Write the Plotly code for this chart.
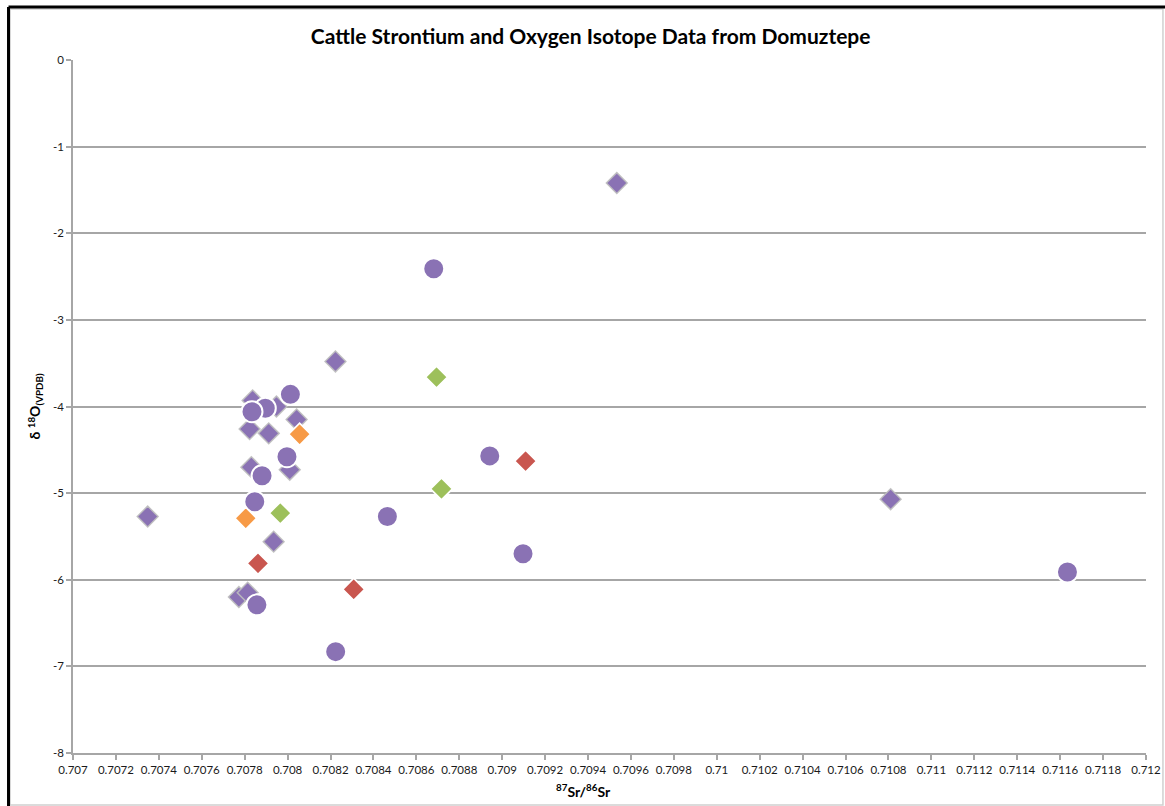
import plotly.graph_objects as go

# ---- data ----
purple_diamond_x = [0.709534, 0.707348, 0.708223, 0.710810, 0.707837, 0.707948, 0.708042,
                    0.707823, 0.707912, 0.707831, 0.708010, 0.707935, 0.707773, 0.707814]
purple_diamond_y = [-1.42, -5.27, -3.48, -5.07, -3.93, -4.00, -4.15,
                    -4.26, -4.31, -4.70, -4.73, -5.56, -6.20, -6.15]

purple_circle_x = [0.708681, 0.708013, 0.707896, 0.707834, 0.707997, 0.707881, 0.707847,
                   0.707857, 0.708224, 0.708465, 0.708942, 0.709097, 0.711634]
purple_circle_y = [-2.41, -3.86, -4.02, -4.06, -4.58, -4.80, -5.10,
                   -6.29, -6.83, -5.27, -4.57, -5.70, -5.91]

orange_x = [0.708056, 0.707805]
orange_y = [-4.32, -5.29]

green_x = [0.707966, 0.708694, 0.708717]
green_y = [-5.23, -3.66, -4.95]

red_x = [0.707862, 0.708308, 0.709109]
red_y = [-5.81, -6.11, -4.63]

x_tickvals = [0.707, 0.7072, 0.7074, 0.7076, 0.7078, 0.708, 0.7082, 0.7084, 0.7086, 0.7088,
              0.709, 0.7092, 0.7094, 0.7096, 0.7098, 0.71, 0.7102, 0.7104, 0.7106, 0.7108,
              0.711, 0.7112, 0.7114, 0.7116, 0.7118, 0.712]
x_ticktext = ["0.707", "0.7072", "0.7074", "0.7076", "0.7078", "0.708", "0.7082", "0.7084",
              "0.7086", "0.7088", "0.709", "0.7092", "0.7094", "0.7096", "0.7098", "0.71",
              "0.7102", "0.7104", "0.7106", "0.7108", "0.711", "0.7112", "0.7114", "0.7116",
              "0.7118", "0.712"]
y_tickvals = [0, -1, -2, -3, -4, -5, -6, -7, -8]
y_ticktext = ["0", "-1", "-2", "-3", "-4", "-5", "-6", "-7", "-8"]

PURPLE = "#8A72B4"
GREEN = "#9DC05B"
ORANGE = "#F79A46"
RED = "#C9564F"
FONT = "Lato"

fig = go.Figure()

fig.add_trace(go.Scatter(
    x=purple_diamond_x, y=purple_diamond_y, mode="markers", name="Purple diamonds",
    marker=dict(symbol="diamond", size=16, color=PURPLE,
                line=dict(color="rgba(190,190,190,0.9)", width=1.5))))
fig.add_trace(go.Scatter(
    x=purple_circle_x, y=purple_circle_y, mode="markers", name="Purple circles",
    marker=dict(symbol="circle", size=21, color=PURPLE,
                line=dict(color="white", width=2))))
for xs, ys, c, n in [(orange_x, orange_y, ORANGE, "Orange"),
                     (green_x, green_y, GREEN, "Green"),
                     (red_x, red_y, RED, "Red")]:
    fig.add_trace(go.Scatter(
        x=xs, y=ys, mode="markers", name=n,
        marker=dict(symbol="diamond", size=17, color=c,
                    line=dict(color="white", width=1.8))))

axis_font = dict(family=FONT, size=11.5, color="#1a1a1a")
fig.update_xaxes(
    range=[0.707, 0.712], tickmode="array", tickvals=x_tickvals, ticktext=x_ticktext,
    showgrid=False, zeroline=False, showline=True, linecolor="#a6a6a6", linewidth=1.5,
    ticks="outside", ticklen=5, tickcolor="#a6a6a6", tickwidth=1.5, tickfont=axis_font,
    automargin=False)
fig.update_yaxes(
    range=[-8, 0], tickmode="array", tickvals=y_tickvals, ticktext=y_ticktext,
    showgrid=True, gridcolor="#a6a6a6", gridwidth=1.8, zeroline=False,
    showline=True, linecolor="#a6a6a6", linewidth=1.5,
    ticks="outside", ticklen=5, tickcolor="#a6a6a6", tickwidth=1.5, tickfont=axis_font,
    automargin=False)

fig.update_layout(
    width=1165, height=806, autosize=False,
    margin=dict(l=73, r=19, t=60, b=53),
    paper_bgcolor="white", plot_bgcolor="white",
    showlegend=False,
    title=dict(text="<b>Cattle Strontium and Oxygen Isotope Data from Domuztepe</b>",
               x=0.507, xanchor="center", y=1 - 37 / 806, yanchor="middle",
               font=dict(family=FONT, size=21, color="black")),
    annotations=[
        dict(text="<b>δ <sup>18</sup>O<sub>(VPDB)</sub></b>", xref="paper", yref="paper",
             x=-0.0354, y=0.5, textangle=-90, showarrow=False, xanchor="center", yanchor="middle",
             font=dict(family=FONT, size=14, color="black")),
        dict(text="<b><sup>87</sup>Sr/<sup>86</sup>Sr</b>", xref="paper", yref="paper",
             x=0.476, y=-0.0548, showarrow=False, xanchor="center", yanchor="middle",
             font=dict(family=FONT, size=14, color="black")),
    ],
    shapes=[
        dict(type="rect", xref="paper", yref="paper", x0=-0.0587, x1=1.0158, y0=-0.075, y1=1.0736,
             line=dict(color="#d0d0d0", width=1.5), layer="below"),
        dict(type="line", xref="paper", yref="paper", x0=-0.0601, x1=-0.0601, y0=-0.08, y1=1.0765,
             line=dict(color="black", width=3)),
        dict(type="line", xref="paper", yref="paper", x0=-0.0601, x1=1.02, y0=1.0765, y1=1.0765,
             line=dict(color="black", width=3)),
    ],
)

fig.write_html(
    "out.html",
    config={"displayModeBar": False, "responsive": False},
    post_script="document.body.style.margin='0';document.body.style.overflow='hidden';",
)
